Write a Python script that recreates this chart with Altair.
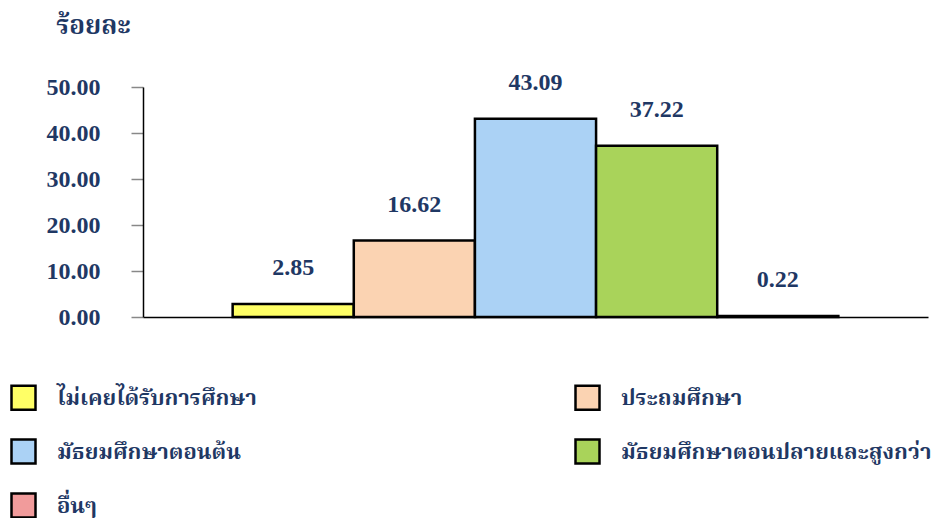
import altair as alt
import pandas as pd

categories = [
    "ไม่เคยได้รับการศึกษา",
    "ประถมศึกษา",
    "มัธยมศึกษาตอนต้น",
    "มัธยมศึกษาตอนปลายและสูงกว่า",
    "อื่นๆ",
]
values = [2.85, 16.62, 43.09, 37.22, 0.22]
colors = ["#FFFF66", "#FBD3B2", "#ABD2F5", "#A9D35A", "#F19B9B"]
y_ticks = [0, 10, 20, 30, 40, 50]

NAVY = "#1F3864"
SERIF = "Liberation Serif, Times New Roman, Noto Serif Thai, Noto Sans Thai, serif"

df = pd.DataFrame({"cat": categories, "val": values})

x_enc = alt.X(
    "cat:N",
    sort=categories,
    scale=alt.Scale(paddingInner=0, paddingOuter=0.74),
    axis=alt.Axis(labels=False, ticks=False, title=None, domainColor="black", domainWidth=1.5),
)
y_enc = alt.Y(
    "val:Q",
    scale=alt.Scale(domain=[0, 50]),
    axis=alt.Axis(
        values=y_ticks,
        format=".2f",
        grid=False,
        domainColor="black",
        domainWidth=1.5,
        tickColor="#888888",
        tickSize=12,
        tickWidth=1.5,
        labelPadding=31,
        labelFont=SERIF,
        labelFontSize=24,
        labelFontWeight="bold",
        labelColor=NAVY,
        title="ร้อยละ",
        titleAngle=0,
        titleX=-50,
        titleY=-62,
        titleAlign="center",
        titleBaseline="middle",
        titleFont=SERIF,
        titleFontSize=26,
        titleFontWeight="bold",
        titleColor=NAVY,
    ),
)

bars = alt.Chart(df).mark_bar(stroke="black", strokeWidth=2.5, opacity=1).encode(
    x=x_enc,
    y=y_enc,
    fill=alt.Fill(
        "cat:N",
        sort=categories,
        scale=alt.Scale(domain=categories, range=colors),
        legend=alt.Legend(
            title=None,
            orient="none",
            legendX=-133,
            legendY=297,
            columns=2,
            direction="horizontal",
            columnPadding=313,
            rowPadding=19,
            padding=0,
            symbolType="square",
            symbolSize=576,
            symbolStrokeColor="black",
            symbolStrokeWidth=2.5,
            symbolOpacity=1,
            labelFont=SERIF,
            labelFontSize=22,
            labelFontWeight="bold",
            labelColor=NAVY,
            labelOffset=20,
            labelLimit=400,
        ),
    ),
)

labels = alt.Chart(df).mark_text(
    dy=-36,
    baseline="middle",
    align="center",
    font=SERIF,
    fontSize=24,
    fontWeight="bold",
    color=NAVY,
).encode(
    x=alt.X("cat:N", sort=categories),
    y=alt.Y("val:Q"),
    text=alt.Text("val:Q", format=".2f"),
)

chart = (
    alt.layer(bars, labels)
    .properties(
        width=785,
        height=230,
        padding={"left": 135, "top": 79, "right": 15, "bottom": 201},
        autosize=alt.AutoSizeParams(type="none"),
        background="white",
    )
    .configure_view(strokeWidth=0, stroke="transparent")
)

chart.save("out.html", embed_options={"renderer": "svg", "actions": False})
